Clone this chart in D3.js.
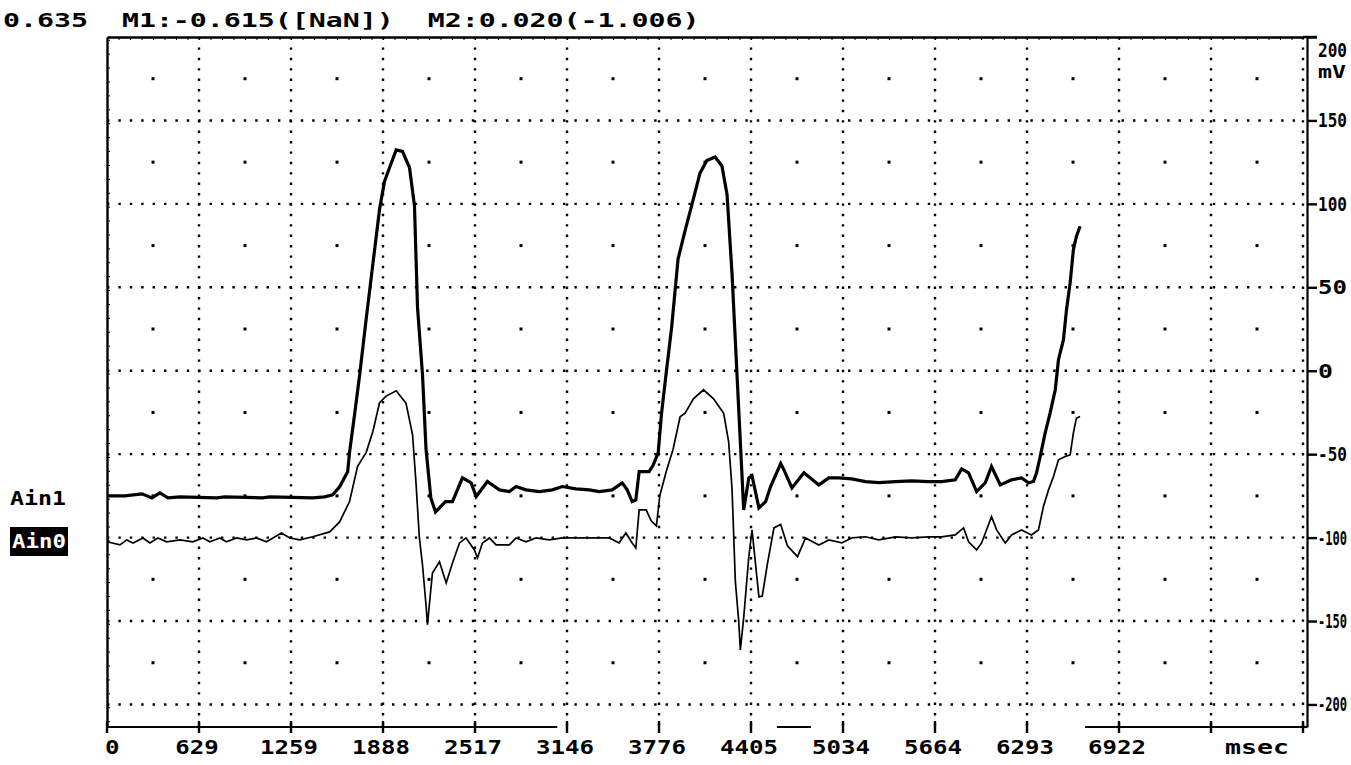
<!DOCTYPE html>
<html>
<head>
<meta charset="utf-8">
<script src="https://cdn.jsdelivr.net/npm/d3@7"></script>
<style>
  html, body { margin: 0; padding: 0; background: #fff; overflow: hidden; }
  svg { display: block; }
  text { font-family: 'DejaVu Sans Mono', monospace; fill: #000; white-space: pre; }
</style>
</head>
<body>
<svg id="scope" width="1351" height="765"></svg>
<script>
// readout line and axis labels
const header = '0.635  M1:-0.615([NaN])  M2:0.020(-1.006)'
const msPerDiv = 629.27
const xTickLabels = ['0', '629', '1259', '1888', '2517', '3146', '3776', '4405', '5034', '5664', '6293', '6922']
const xUnit = 'msec'
const yTicks = [200, 150, 100, 50, 0, -50, -100, -150, -200]
const yUnit = 'mV'
const channelNames = ['Ain1', 'Ain0']

// Ain1 (thick trace), [msec, mV]
const ain1 = [
  [0, -75], [123, -75], [239, -73.8], [307, -76.2], [362, -73.2], [417, -76.2], [499, -75.6],
  [751, -76.2], [806, -75.6], [1065, -76.2], [1113, -75.6], [1407, -76.2], [1489, -75.6],
  [1543, -74.4], [1591, -69.6], [1646, -60.6], [1659, -48.9], [1694, -25.8], [1728, -2.6],
  [1773, 31.2], [1808, 56.4], [1864, 96.6], [1898, 113.4], [1933, 121.8], [1978, 132.3],
  [2021, 131.4], [2069, 121.8], [2103, 99], [2124, 37.8], [2158, -2.4], [2182, -46.8],
  [2215, -76.2], [2247, -84.6], [2274, -82.2], [2315, -78.4], [2363, -78.4], [2431, -64.2],
  [2491, -67.2], [2525, -75.4], [2602, -66.4], [2684, -71.4], [2752, -72.4], [2798, -69.4],
  [2866, -71.4], [2957, -72.4], [3046, -71.4], [3114, -69.4], [3208, -70.8], [3298, -71.4],
  [3367, -72.4], [3455, -71.4], [3524, -67.2], [3558, -71.4], [3592, -78.4], [3617, -77.4],
  [3640, -60.4], [3708, -60.4], [3735, -56.7], [3770, -49.2], [3793, -25.5], [3827, 0.3],
  [3862, 26], [3906, 66.9], [3954, 84], [3999, 99], [4056, 118.4], [4103, 126], [4159, 128.1],
  [4206, 122.7], [4241, 105.6], [4275, 58.3], [4298, 17.4], [4321, -23.4], [4355, -83.4],
  [4390, -64.2], [4412, -63], [4459, -82.2], [4505, -78.4], [4539, -69.4], [4608, -55.6],
  [4630, -59.4], [4685, -70.2], [4767, -61.2], [4869, -68.4], [4937, -64.2], [5005, -64.2],
  [5094, -64.8], [5188, -66.4], [5279, -67], [5393, -66.4], [5504, -66], [5620, -66.4],
  [5709, -66.4], [5802, -65.4], [5846, -58.8], [5893, -61.2], [5948, -72.4], [6007, -67.2],
  [6050, -57.4], [6110, -68.4], [6187, -65.4], [6255, -64.2], [6303, -67.2], [6337, -66.4],
  [6358, -61.2], [6383, -51.4], [6417, -37.2], [6451, -25.2], [6486, -11.4], [6508, 6.6],
  [6542, 18.6], [6563, 36.6], [6588, 52.8], [6610, 72.6], [6631, 80.6], [6656, 86.6]
]

// Ain0 (thin trace), [msec, mV]
const ain0 = [
  [0, -102.5], [89, -104.4], [135, -101.4], [178, -103.2], [246, -100.2], [294, -103.2],
  [348, -100.2], [408, -102.5], [499, -101.4], [587, -102.5], [656, -100.2], [703, -102.5],
  [772, -100.2], [817, -102.5], [886, -100.2], [954, -101.4], [1022, -100.2], [1091, -102.5],
  [1193, -97.2], [1250, -100.2], [1318, -101.4], [1407, -99.5], [1523, -96.6], [1591, -90.6],
  [1659, -78.4], [1714, -57.3], [1773, -48.9], [1819, -36.3], [1864, -19.2], [1909, -15.2],
  [1978, -12], [2045, -19.4], [2090, -38.4], [2114, -67.8], [2136, -99.5], [2158, -116.4],
  [2182, -140.4], [2192, -152.2], [2206, -139.2], [2226, -121.2], [2274, -114.5], [2320, -127.2],
  [2363, -115.2], [2411, -103.2], [2456, -100.2], [2513, -107.4], [2534, -112.2], [2568, -103.2],
  [2616, -100.2], [2661, -104.4], [2752, -104.4], [2798, -100.2], [2866, -102.5], [2934, -100.2],
  [3025, -101.4], [3114, -100.2], [3298, -100.2], [3435, -100.2], [3503, -103.2], [3549, -97.2],
  [3592, -103.2], [3617, -106.2], [3640, -83.4], [3688, -83.4], [3722, -89.9], [3758, -93],
  [3781, -74.9], [3827, -59.8], [3872, -47], [3920, -27.6], [3954, -25.5], [4011, -16.8],
  [4080, -11.4], [4149, -16.8], [4218, -25.5], [4252, -42.6], [4275, -70.6], [4298, -126.5],
  [4321, -150.1], [4332, -167.3], [4355, -148], [4390, -111.4], [4412, -95.4], [4459, -135.5],
  [4482, -135], [4517, -115.7], [4562, -94.2], [4608, -92.1], [4654, -104.9], [4723, -111.4],
  [4778, -100.2], [4869, -104.4], [4937, -101.4], [5026, -103.2], [5094, -100.2], [5188, -99.5],
  [5279, -101.4], [5393, -99.6], [5504, -100.2], [5620, -99.6], [5709, -99.6], [5802, -98.4],
  [5859, -94.2], [5893, -102.5], [5948, -107.4], [5982, -103.2], [6050, -87.4], [6085, -95.4],
  [6144, -103.2], [6187, -98.4], [6255, -95.4], [6323, -98.4], [6371, -95.4], [6405, -81.4],
  [6440, -71.4], [6474, -63.4], [6508, -53.4], [6554, -51.4], [6588, -50.4], [6610, -37.2],
  [6631, -28.4], [6656, -27.4]
]

// pieces of the bottom axis line that survived the printout, in msec
const axisSegments = [[0, 3080], [4582, 4815], [6690, 13 * msPerDiv]]

const svg = d3.select('#scope')
const frame = { left: 107, right: 1303, top: 37, bottom: 727 }
const x = d3.scaleLinear().domain([0, 13 * msPerDiv]).range([frame.left, frame.right])
const y = d3.scaleLinear().domain([-213.5, 200]).range([frame.bottom, frame.top])

// text in a wide, fixed pitch face: the glyphs are stretched to the given pitch
function label (str, px, py, pitch, anchor, size) {
  size = size || 19
  const sx = pitch / (0.602 * size)
  return svg.append('g')
    .attr('transform', `translate(${px},${py}) scale(${sx},1)`)
    .append('text')
    .attr('font-size', size)
    .attr('font-weight', 'bold')
    .attr('text-anchor', anchor || 'start')
    .text(str)
}

// dotted grid
const divs = d3.range(1, 14).map(i => i * msPerDiv)
svg.append('g').selectAll('line').data(divs).join('line')
  .attr('x1', d => x(d)).attr('x2', d => x(d))
  .attr('y1', frame.top).attr('y2', frame.bottom)
  .attr('stroke', '#000').attr('stroke-width', 2.4).attr('stroke-dasharray', '2.4,8')

svg.append('g').selectAll('line').data(yTicks.slice(1)).join('line')
  .attr('x1', frame.left).attr('x2', frame.right)
  .attr('y1', d => y(d)).attr('y2', d => y(d))
  .attr('stroke', '#000').attr('stroke-width', 2.4).attr('stroke-dasharray', '2.4,9')

// one dot in the middle of every cell
const cellX = d3.range(13).map(i => (i + 0.5) * msPerDiv)
const cellY = d3.range(8).map(i => 175 - i * 50)
svg.append('g').selectAll('rect').data(d3.cross(cellX, cellY)).join('rect')
  .attr('x', d => x(d[0]) - 1.5).attr('y', d => y(d[1]) - 1.5)
  .attr('width', 3).attr('height', 3).attr('fill', '#000')

// frame: top and left borders with fine ticks
svg.append('g').attr('transform', `translate(0,${frame.top})`)
  .call(d3.axisBottom(x).tickValues(d3.range(0, 13 * msPerDiv, msPerDiv / 8)).tickSize(3).tickSizeOuter(0).tickFormat(''))
  .call(g => g.select('.domain').attr('stroke-width', 2.4))
svg.append('line').attr('x1', frame.right).attr('x2', frame.right + 14).attr('y1', frame.top).attr('y2', frame.top)
  .attr('stroke', '#000').attr('stroke-width', 2.4)

svg.append('g').attr('transform', `translate(${frame.left},0)`)
  .call(d3.axisRight(y).tickValues(d3.range(-210, 200, 50 / 6)).tickSize(3).tickSizeOuter(0).tickFormat(''))
  .call(g => g.select('.domain').attr('stroke-width', 2.4))

// right axis
svg.append('g').attr('transform', `translate(${frame.right + 4},0)`)
  .call(d3.axisRight(y).tickValues(yTicks).tickSize(10).tickSizeOuter(0).tickFormat(''))
  .call(g => g.select('.domain').attr('stroke-width', 2.2))
  .call(g => g.selectAll('.tick line').attr('stroke-width', 2.4))

// labels squeezed into the strip left of the page edge
const labelRoom = 1347 - 1318
yTicks.forEach(v => {
  const s = String(v)
  label(s, 1318, Math.max(y(v), 50) + 7, Math.min(15, labelRoom / s.length), 'start', 20)
})
label(yUnit, 1318, 78, 14, 'start', 18)

// bottom axis
svg.append('g').selectAll('line').data(axisSegments).join('line')
  .attr('x1', d => x(d[0])).attr('x2', d => x(d[1]))
  .attr('y1', frame.bottom).attr('y2', frame.bottom)
  .attr('stroke', '#000').attr('stroke-width', 2.2)
svg.append('g').selectAll('line').data(d3.range(0, 14).map(i => i * msPerDiv)).join('line')
  .attr('x1', d => x(d)).attr('x2', d => x(d))
  .attr('y1', frame.bottom - 6).attr('y2', frame.bottom + 6)
  .attr('stroke', '#000').attr('stroke-width', 2.4)
svg.append('line').attr('x1', frame.right).attr('x2', frame.right + 4).attr('y1', frame.bottom).attr('y2', frame.bottom)
  .attr('stroke', '#000').attr('stroke-width', 2.2)

xTickLabels.forEach((t, i) => {
  if (i === 0) label(t, frame.left - 2, 754, 14.5, 'start', 20)
  else label(t, x(i * msPerDiv) - 2, 754, 14.5, 'middle', 20)
})
label(xUnit, x(12.5 * msPerDiv), 754, 16, 'middle', 20)

// traces
const line = d3.line().x(d => x(d[0])).y(d => y(d[1]))
svg.append('path').datum(ain0).attr('d', line)
  .attr('fill', 'none').attr('stroke', '#000').attr('stroke-width', 1.7)
svg.append('path').datum(ain1).attr('d', line)
  .attr('fill', 'none').attr('stroke', '#000').attr('stroke-width', 3.2)

// channel names
label(channelNames[0], 10, 505, 14, 'start', 19)
svg.append('rect').attr('x', 10).attr('y', 527).attr('width', 58).attr('height', 29).attr('fill', '#000')
label(channelNames[1], 12, 548, 13.5, 'start', 19).style('fill', '#fff')

// readout
label(header, 3, 27, 17, 'start', 19)
</script>
</body>
</html>
